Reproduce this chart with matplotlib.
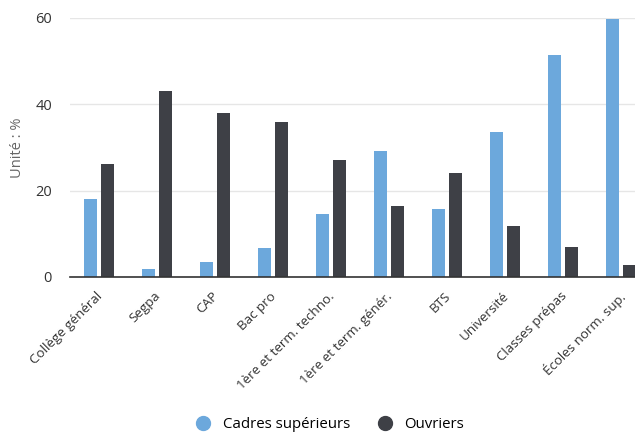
import matplotlib
matplotlib.use("Agg")
import matplotlib.pyplot as plt
import numpy as np
from matplotlib.lines import Line2D
from matplotlib.transforms import ScaledTranslation

plt.rcParams['font.family'] = ['Open Sans', 'DejaVu Sans']

categories = ["Collège général", "Segpa", "CAP", "Bac pro", "1ère et term. techno.",
              "1ère et term. génér.", "BTS", "Université", "Classes prépas", "Écoles norm. sup."]
cadres = [18.0, 1.9, 3.4, 6.7, 14.6, 29.1, 15.8, 33.7, 51.5, 59.8]
ouvriers = [26.2, 43.1, 38.0, 36.0, 27.2, 16.4, 24.0, 11.7, 6.9, 2.7]
yticks = [0, 20, 40, 60]

blue = "#6ca8dc"
dark = "#3e4046"

fig = plt.figure(figsize=(6.35, 4.34), dpi=100)
ax = fig.add_axes([70/635, 157/434, 580/635, 259/434])
x = np.arange(len(categories))
w = 0.24
off = 0.147
ax.bar(x - off, cadres, width=w, color=blue, zorder=3)
ax.bar(x + off, ouvriers, width=w, color=dark, zorder=3)

ax.set_xlim(-0.5, len(categories) - 0.5)
ax.set_ylim(0, 60)
ax.set_yticks(yticks)
ax.set_yticklabels([str(v) for v in yticks], fontsize=10.5, color="#333333")
ax.yaxis.grid(True, color="#e6e6e6", linewidth=1, zorder=0)
ax.tick_params(axis='y', length=0, pad=13)
ax.tick_params(axis='x', length=0, pad=4)
for s in ["top", "right", "left"]:
    ax.spines[s].set_visible(False)
ax.spines["bottom"].set_color("#333333")
ax.spines["bottom"].set_linewidth(1.2)
ax.spines["bottom"].set_zorder(4)

ax.set_xticks(x)
ax.set_xticklabels(categories, rotation=45, ha='right', rotation_mode='anchor',
                   fontsize=9.6, color="#333333")
for lbl in ax.get_xticklabels():
    lbl.set_transform(lbl.get_transform() + ScaledTranslation(-3/100, -7/100, fig.dpi_scale_trans))

ax.set_ylabel("Unité : %", fontsize=10.5, color="#666666")
ax.yaxis.set_label_coords(-45/580, 0.5)

handles = [Line2D([0], [0], marker='o', linestyle='', markersize=10, markerfacecolor=blue, markeredgecolor=blue),
           Line2D([0], [0], marker='o', linestyle='', markersize=10, markerfacecolor=dark, markeredgecolor=dark)]
fig.legend(handles, ["Cadres supérieurs", "Ouvriers"], loc='center', bbox_to_anchor=(326/635, 1 - 425/434),
           ncol=2, frameon=False, fontsize=10.8, handletextpad=0.3, columnspacing=1.3)

fig.savefig("out.png", dpi=100)
